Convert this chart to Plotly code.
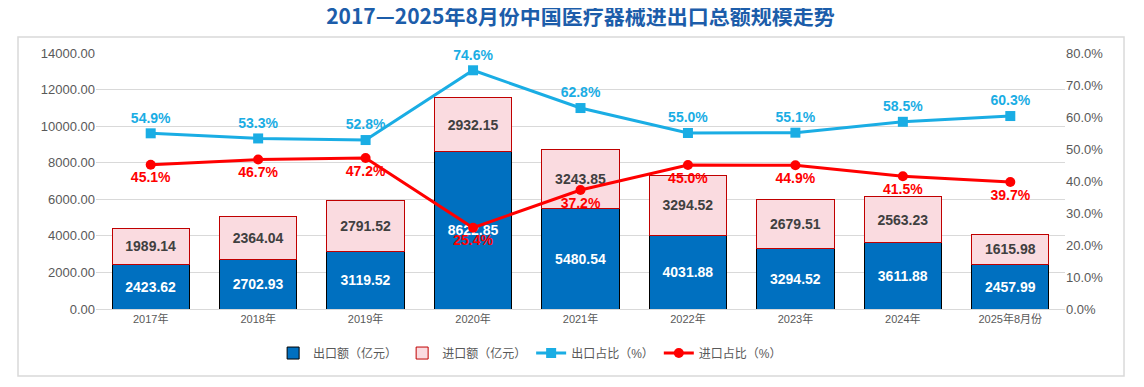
import plotly.graph_objects as go

categories = ["2017年", "2018年", "2019年", "2020年", "2021年", "2022年", "2023年", "2024年", "2025年8月份"]
export_vals = [2423.62, 2702.93, 3119.52, 8622.85, 5480.54, 4031.88, 3294.52, 3611.88, 2457.99]
import_vals = [1989.14, 2364.04, 2791.52, 2932.15, 3243.85, 3294.52, 2679.51, 2563.23, 1615.98]
export_share = [54.9, 53.3, 52.8, 74.6, 62.8, 55.0, 55.1, 58.5, 60.3]
import_share = [45.1, 46.7, 47.2, 25.4, 37.2, 45.0, 44.9, 41.5, 39.7]

FONT = "Arial, 'Liberation Sans', 'Noto Sans CJK SC', sans-serif"
GRAY = "#595959"

fig = go.Figure()
fig.add_trace(go.Bar(
    x=categories, y=export_vals, name="出口额（亿元）",
    marker=dict(color="#0070C0", line=dict(color="#000000", width=1)),
    texttemplate="%{y:.2f}", textposition="inside", insidetextanchor="middle",
    textangle=0, constraintext="none",
    textfont=dict(color="white", size=14, family=FONT, weight="bold"),
    hoverinfo="skip",
))
fig.add_trace(go.Bar(
    x=categories, y=import_vals, name="进口额（亿元）",
    marker=dict(color="#FADBE0", line=dict(color="#C00000", width=1)),
    texttemplate="%{y:.2f}", textposition="inside", insidetextanchor="middle",
    textangle=0, constraintext="none",
    textfont=dict(color="#404040", size=14, family=FONT, weight="bold"),
    hoverinfo="skip",
))
fig.add_trace(go.Scatter(
    x=categories, y=export_share, name="出口占比（%）", yaxis="y2",
    mode="lines+markers+text", cliponaxis=False,
    line=dict(color="#1AADE4", width=3),
    marker=dict(symbol="square", size=10, color="#1AADE4"),
    text=[f"{v:.1f}%" for v in export_share], textposition="top center",
    textfont=dict(color="#1AADE4", size=14, family=FONT, weight="bold"),
    hoverinfo="skip",
))
fig.add_trace(go.Scatter(
    x=categories, y=import_share, name="进口占比（%）", yaxis="y2",
    mode="lines+markers+text", cliponaxis=False,
    line=dict(color="#FF0000", width=3),
    marker=dict(symbol="circle", size=10, color="#FF0000"),
    text=[f"{v:.1f}%" for v in import_share], textposition="bottom center",
    textfont=dict(color="#FF0000", size=14, family=FONT, weight="bold"),
    hoverinfo="skip",
))

fig.update_layout(
    width=1136, height=379,
    margin=dict(l=88, r=79, t=45, b=78),
    paper_bgcolor="white", plot_bgcolor="white",
    barmode="stack", bargap=0.28,
    font=dict(family=FONT, color=GRAY, size=13),
    title=dict(
        text="2017—2025年8月份中国医疗器械进出口总额规模走势",
        x=0.5, xanchor="center", xref="paper", y=0.976, yanchor="middle", yref="container",
        font=dict(family="'Noto Sans CJK SC', sans-serif", size=21, color="#1C5DAA", weight="bold"),
    ),
    xaxis=dict(
        showgrid=False, showline=True, linecolor="#D9D9D9", linewidth=1,
        tickfont=dict(size=11, color=GRAY, family=FONT), ticks="",
    ),
    yaxis=dict(
        range=[0, 14000], dtick=2000, tickformat=".2f",
        showgrid=True, gridcolor="#D9D9D9", gridwidth=1, zeroline=False,
        tickfont=dict(size=13, color=GRAY, family=FONT), ticks="",
    ),
    yaxis2=dict(
        range=[0, 80], dtick=10, tickformat=".1f", ticksuffix="%",
        overlaying="y", side="right", showgrid=False, zeroline=False,
        tickfont=dict(size=13, color=GRAY, family=FONT), ticks="",
    ),
    legend=dict(
        orientation="h", x=0.448, xanchor="center", y=-0.172, yanchor="middle",
        font=dict(size=12, color=GRAY, family=FONT), traceorder="normal",
        itemwidth=30,
    ),
    shapes=[dict(
        type="rect", xref="paper", yref="paper",
        x0=-0.0805, x1=1.0609, y0=-0.2617, y1=1.0625,
        line=dict(color="#D9D9D9", width=1.5), fillcolor="rgba(0,0,0,0)", layer="below",
    )],
    showlegend=True,
)

fig.write_html("out.html")
